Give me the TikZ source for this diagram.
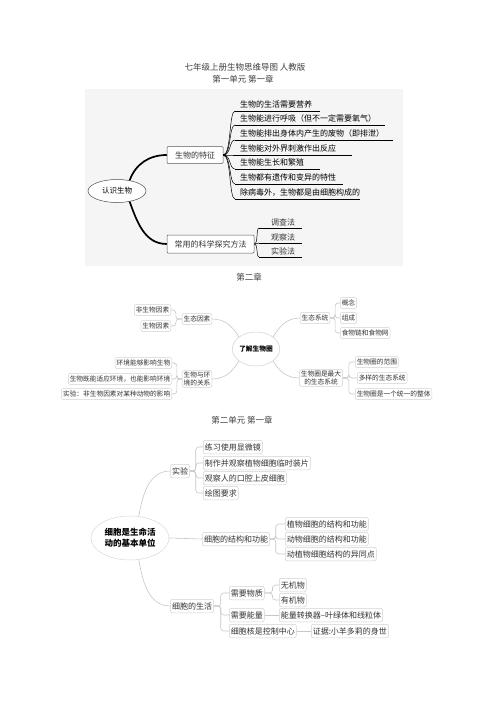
\documentclass[tikz,border=0pt]{standalone}
\usepackage{fontspec}
\setmainfont{Noto Sans CJK SC}
\usetikzlibrary{shapes.geometric}
\tikzset{
  ttl/.style={inner sep=0pt, font=\fontsize{8.5}{10}\selectfont, text=black!75},
  bx/.style={draw=black!65, line width=0.5pt, fill=white, rounded corners=1pt, inner sep=1pt, font=\fontsize{8}{9}\selectfont, text=black!80},
  it/.style={anchor=base west, inner sep=0pt, font=\fontsize{8}{9}\selectfont},
  it2/.style={anchor=base, inner sep=0pt, font=\fontsize{8}{9}\selectfont, text=black!80},
  bl/.style={draw=black, line width=0.5pt},
  gbx/.style={draw=black!18, line width=0.5pt, fill=white, rounded corners=2pt, inner xsep=1.5pt, inner ysep=1pt, minimum height=11pt, font=\fontsize{6.7}{8.5}\selectfont, align=center, text=black!80},
  sbx/.style={gbx, minimum height=13.5pt, font=\fontsize{8}{9.5}\selectfont},
  gl/.style={draw=black!22, line width=0.6pt},
  br/.style={gl, rounded corners=3pt},
}
\begin{document}
\begin{tikzpicture}[x=1pt,y=-1pt]
\useasboundingbox (0,0) rectangle (500,707);
\fill[white] (0,0) rectangle (500,707);

% titles
\node[ttl] (t1) at (245,67) {七年级上册生物思维导图\ 人教版};
\node[ttl] (t1b) at (243,79.5) {第一单元\ 第一章};
\node[ttl] (t2) at (249,277) {第二章};
\node[ttl] (t3) at (242,420) {第二单元\ 第一章};

% ---------------- section 1 ----------------
\fill[black!4] (85,89) rectangle (403,266);
\node[ellipse, draw=black!70, line width=0.5pt, fill=white, minimum width=58pt, minimum height=23pt, inner sep=0pt, font=\fontsize{7.5}{9}\selectfont] (s1) at (117,191) {认识生物};
\node[bx, minimum width=56pt, minimum height=17pt] (tz) at (195,155) {生物的特征};
\node[bx, minimum width=87pt, minimum height=18pt] (ff) at (210.5,244) {常用的科学探究方法};

\draw[line width=1.7pt] (s1.40) to[out=70,in=180] (tz.west);
\draw[line width=1.7pt] (s1.-40) to[out=-70,in=180] (ff.west);

% characteristics
\coordinate (u1) at (235,111); \coordinate (v1) at (320,111);
\coordinate (u2) at (235,125); \coordinate (v2) at (385,125);
\coordinate (u3) at (235,140); \coordinate (v3) at (393,140);
\coordinate (u4) at (235,155); \coordinate (v4) at (352,155);
\coordinate (u5) at (235,169); \coordinate (v5) at (320,169);
\coordinate (u6) at (235,184); \coordinate (v6) at (343,184);
\coordinate (u7) at (235,199); \coordinate (v7) at (360,199);
\node[it] (a1) at (240,107.8) {生物的生活需要营养};
\node[it] (a2) at (240,121.8) {生物能进行呼吸（但不一定需要氧气）};
\node[it] (a3) at (240,136.8) {生物能排出身体内产生的废物（即排泄）};
\node[it] (a4) at (240,151.8) {生物能对外界刺激作出反应};
\node[it] (a5) at (240,165.8) {生物能生长和繁殖};
\node[it] (a6) at (240,180.8) {生物都有遗传和变异的特性};
\node[it] (a7) at (240,195.8) {除病毒外，生物都是由细胞构成的};
\foreach \i in {1,...,7}{
  \draw[bl] (u\i) -- (v\i);
  \draw[bl] (tz.east) .. controls +(8,0) and +(-6,0) .. (u\i);
}

% methods
\coordinate (m1) at (259,228); \coordinate (n1) at (302,228);
\coordinate (m2) at (259,243); \coordinate (n2) at (302,243);
\coordinate (m3) at (259,257); \coordinate (n3) at (302,257);
\node[it2] (b1) at (283,225) {调查法};
\node[it2] (b2) at (283,240) {观察法};
\node[it2] (b3) at (283,254) {实验法};
\foreach \i in {1,2,3}{
  \draw[bl] (m\i) -- (n\i);
  \draw[bl] (ff.east) .. controls +(4,0) and +(-3,0) .. (m\i);
}

% ---------------- section 2 ----------------
\node[ellipse, draw=black!18, line width=0.5pt, fill=white, minimum width=46pt, minimum height=34pt, inner sep=0pt, font=\bfseries\fontsize{6.7}{8}\selectfont] (c2) at (256,349) {了解生物圈};

\node[gbx] (e1) at (197,319) {生态因素};
\node[gbx, anchor=east] (e1a) at (171,310) {非生物因素};
\node[gbx, anchor=east] (e1b) at (171,326) {生物因素};

\node[gbx] (e2) at (197,379) {生物与环\\境的关系};
\node[gbx, anchor=east] (e2a) at (172,363) {环境能够影响生物};
\node[gbx, anchor=east] (e2b) at (172,379) {生物既能适应环境，也能影响环境};
\node[gbx, anchor=east] (e2c) at (172,394) {实验：非生物因素对某种动物的影响};

\node[gbx] (e3) at (315,318) {生态系统};
\node[gbx, anchor=west] (e3a) at (340,303) {概念};
\node[gbx, anchor=west] (e3b) at (340,318) {组成};
\node[gbx, anchor=west] (e3c) at (340,333) {食物链和食物网};

\node[gbx] (e4) at (321,378) {生物圈是最大\\的生态系统};
\node[gbx, anchor=west] (e4a) at (355,362) {生物圈的范围};
\node[gbx, anchor=west] (e4b) at (357,378) {多样的生态系统};
\node[gbx, anchor=west] (e4c) at (355,394) {生物圈是一个统一的整体};

\draw[gl] (e1.east) to[out=0,in=120] (c2.145);
\draw[gl] (e2.east) to[out=0,in=240] (c2.215);
\draw[gl] (e3.west) to[out=180,in=60] (c2.35);
\draw[gl] (e4.west) to[out=180,in=300] (c2.325);

\foreach \c in {e1a,e1b}{\draw[br] (e1.west) -- ++(-6,0) |- (\c.east);}
\foreach \c in {e2a,e2b,e2c}{\draw[br] (e2.west) -- ++(-5,0) |- (\c.east);}
\foreach \c in {e3a,e3b,e3c}{\draw[br] (e3.east) -- ++(5,0) |- (\c.west);}
\foreach \c in {e4a,e4b,e4c}{\draw[br] (e4.east) -- ++(6,0) |- (\c.west);}

% ---------------- section 3 ----------------
\node[ellipse, draw=black!15, line width=0.5pt, fill=white, minimum width=78pt, minimum height=44pt, inner sep=0pt, align=center, font=\bfseries\fontsize{8.5}{11}\selectfont] (c3) at (130,538) {细胞是生命活\\动的基本单位};

\node[sbx] (f1) at (180,471) {实验};
\node[sbx, anchor=west] (f1a) at (203,447) {练习使用显微镜};
\node[sbx, anchor=west] (f1b) at (203,463) {制作并观察植物细胞临时装片};
\node[sbx, anchor=west] (f1c) at (203,478) {观察人的口腔上皮细胞};
\node[sbx, anchor=west] (f1d) at (203,493) {绘图要求};

\node[sbx] (f2) at (236,539) {细胞的结构和功能};
\node[sbx, anchor=west] (f2a) at (285,524) {植物细胞的结构和功能};
\node[sbx, anchor=west] (f2b) at (285,539) {动物细胞的结构和功能};
\node[sbx, anchor=west] (f2c) at (285,554) {动植物细胞结构的异同点};

\node[sbx] (f3) at (192,606) {细胞的生活};
\node[sbx, anchor=west] (g1) at (229,593) {需要物质};
\node[sbx, anchor=west] (g2) at (229,615) {需要能量};
\node[sbx, anchor=west] (g3) at (229,631) {细胞核是控制中心};
\node[sbx, anchor=west] (h1) at (279,585) {无机物};
\node[sbx, anchor=west] (h2) at (279,600) {有机物};
\node[sbx, anchor=west] (h3) at (279,615) {能量转换器--叶绿体和线粒体};
\node[sbx, anchor=west] (h4) at (311,631) {证据:小羊多莉的身世};

\draw[gl] (c3.68) to[out=80,in=180] (f1.west);
\draw[gl] (c3.east) -- (f2.west);
\draw[gl] (c3.-68) to[out=-80,in=180] (f3.west);

\foreach \c in {f1a,f1b,f1c,f1d}{\draw[br] (f1.east) -- ++(6,0) |- (\c.west);}
\foreach \c in {f2a,f2b,f2c}{\draw[br] (f2.east) -- ++(6,0) |- (\c.west);}
\foreach \c in {g1,g2,g3}{\draw[br] (f3.east) -- ++(7,0) |- (\c.west);}
\foreach \c in {h1,h2}{\draw[br] (g1.east) -- ++(8,0) |- (\c.west);}
\draw[gl] (g2.east) -- (h3.west);
\draw[gl] (g3.east) -- (h4.west);
\end{tikzpicture}
\end{document}
